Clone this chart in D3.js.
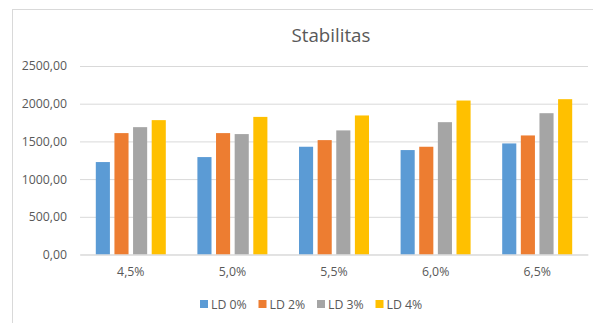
<!DOCTYPE html>
<html>
<head>
<meta charset="utf-8">
<script src="https://cdn.jsdelivr.net/npm/d3@7"></script>
<style>
  html, body { margin: 0; padding: 0; background: #fff; }
  svg { display: block; font-family: "Open Sans", sans-serif; }
</style>
</head>
<body>
<svg id="chart" width="593" height="323"></svg>
<script>
const categories = ["4,5%", "5,0%", "5,5%", "6,0%", "6,5%"];
const seriesNames = ["LD 0%", "LD 2%", "LD 3%", "LD 4%"];
const ld0 = [1226, 1292, 1429, 1385, 1473];
const ld2 = [1610, 1610, 1517, 1429, 1579];
const ld3 = [1689, 1597, 1646, 1755, 1874];
const ld4 = [1782, 1825, 1844, 2042, 2060];
const yTicks = [0, 500, 1000, 1500, 2000, 2500];
const colors = ["#5B9BD5", "#ED7D31", "#A5A5A5", "#FFC000"];
const title = "Stabilitas";

const seriesValues = [ld0, ld2, ld3, ld4];

const svg = d3.select("#chart");
svg.append("rect").attr("width", 593).attr("height", 323).attr("fill", "#fff");

// chart border (left & top visible)
svg.append("rect")
  .attr("x", 12.5).attr("y", 9.5).attr("width", 700).attr("height", 400)
  .attr("fill", "none").attr("stroke", "#d9d9d9").attr("stroke-width", 1);

const plotLeft = 80, plotRight = 588, plotTop = 66, plotBottom = 254.5;

const x0 = d3.scaleBand().domain(categories).range([plotLeft, plotRight]).padding(0);
const groupW = 70;
const x1 = d3.scaleBand().domain(seriesNames).range([-groupW / 2, groupW / 2]).paddingInner(0.243).paddingOuter(0);
const y = d3.scaleLinear().domain([0, 2500]).range([plotBottom, plotTop]);

// gridlines
const yAxis = d3.axisLeft(y).tickValues(yTicks).tickSize(-(plotRight - plotLeft)).tickPadding(13)
  .tickFormat(d => d3.format(".2f")(d).replace(".", ","));
const gy = svg.append("g").attr("transform", `translate(${plotLeft},0)`).call(yAxis);
gy.select(".domain").remove();
gy.selectAll(".tick line").attr("stroke", "#d9d9d9").attr("stroke-width", 1);
gy.selectAll(".tick text").attr("fill", "#595959").attr("font-size", "12.3px")
  .attr("font-family", "Open Sans, sans-serif");

// bars
const groups = svg.append("g").selectAll("g").data(categories).join("g")
  .attr("transform", d => `translate(${x0(d) + x0.bandwidth() / 2},0)`);
groups.selectAll("rect")
  .data((c, i) => seriesNames.map((s, j) => ({ s, j, v: seriesValues[j][i] })))
  .join("rect")
  .attr("x", d => x1(d.s))
  .attr("width", x1.bandwidth())
  .attr("y", d => y(d.v))
  .attr("height", d => y(0) - y(d.v))
  .attr("fill", d => colors[d.j]);

// x axis
const xAxis = d3.axisBottom(x0).tickSize(0).tickPadding(13);
const gx = svg.append("g").attr("transform", `translate(0,${plotBottom})`).call(xAxis);
gx.select(".domain").attr("stroke", "#d9d9d9");
gx.selectAll(".tick text").attr("fill", "#595959").attr("font-size", "12.3px")
  .attr("font-family", "Open Sans, sans-serif");

// title
svg.append("text").attr("x", 331).attr("y", 42).attr("text-anchor", "middle")
  .attr("fill", "#595959").attr("font-size", "18.7px").text(title);

// legend
const legend = svg.append("g").selectAll("g").data(seriesNames).join("g")
  .attr("transform", (d, i) => `translate(${200 + i * 58.5},300)`);
legend.append("rect").attr("width", 8).attr("height", 8).attr("fill", (d, i) => colors[i]);
legend.append("text").attr("x", 11).attr("y", 8.5).attr("fill", "#595959")
  .attr("font-size", "12.3px").text(d => d);
</script>
</body>
</html>
